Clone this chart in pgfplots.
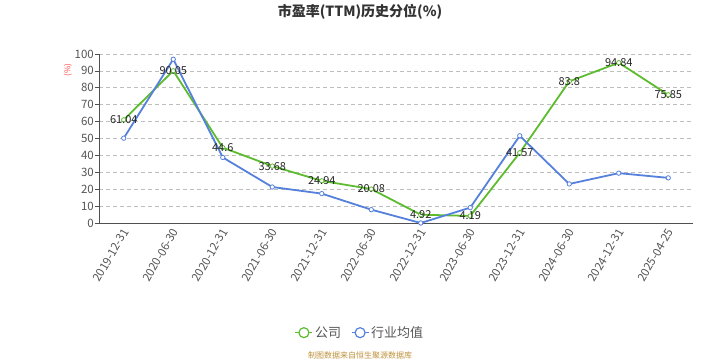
\documentclass[border=0pt]{standalone}
\usepackage{pgfplots}
\pgfplotsset{compat=1.18}
\usepackage{fontspec}
\setmainfont{Noto Sans CJK SC}
\definecolor{cgreen}{RGB}{93,187,46}
\definecolor{cblue}{RGB}{85,128,220}
\definecolor{axcol}{RGB}{80,80,80}
\definecolor{tickcol}{RGB}{85,85,85}
\definecolor{gridcol}{RGB}{190,190,190}
\definecolor{footcol}{RGB}{190,145,60}
\begin{document}
\begin{tikzpicture}[x=1bp,y=1bp]
\path[use as bounding box] (0,0) rectangle (720,360);
\begin{axis}[
  at={(99bp,137bp)}, anchor=origin,
  scale only axis, width=594bp, height=169bp,
  xmin=0, xmax=12, ymin=0, ymax=100,
  axis lines*=left,
  axis line style={axcol, line width=0.8pt},
  /pgf/number format/assume math mode=true,
  xtick={0.5,1.5,...,11.5},
  xticklabels={2019-12-31,2020-06-30,2020-12-31,2021-06-30,2021-12-31,2022-06-30,2022-12-31,2023-06-30,2023-12-31,2024-06-30,2024-12-31,2025-04-25},
  major x tick style={draw=none},
  extra x ticks={0,1,...,12},
  extra x tick labels={},
  extra x tick style={major tick length=5bp, tick style={axcol, line width=0.8pt}, tick align=outside},
  xticklabel style={rotate=60, anchor=east, font=\fontsize{11.5bp}{12bp}\selectfont, text=tickcol, inner sep=1bp, yshift=-3bp},
  ytick={0,10,...,100},
  yticklabel style={font=\fontsize{11.5bp}{12bp}\selectfont, text=tickcol, inner sep=1bp},
  ymajorgrids,
  grid style={gridcol, dashed, line width=0.8pt, dash pattern=on 4bp off 3bp},
  tick align=outside,
  major tick length=4bp,
  y tick style={axcol, line width=0.8pt},
  clip=false,
  legend style={at={(0.4394,-0.649)}, anchor=center, draw=none, fill=none,
     legend columns=2, font=\fontsize{13bp}{14bp}\selectfont, text=tickcol,
     /tikz/every even column/.append style={column sep=8bp}},
  legend cell align=left,
  legend image code/.code={\draw[line width=1.2pt] (0bp,0bp)--(17bp,0bp); \draw[line width=1.2pt, fill=white] (8.5bp,0bp) circle (5bp);},
]
\addplot[cgreen, line width=1.8pt, mark=*, mark size=2.2bp, mark options={fill=white, line width=0.8pt}] coordinates {
(0.5,61.04) (1.5,90.05) (2.5,44.6) (3.5,33.68) (4.5,24.94) (5.5,20.08) (6.5,4.92) (7.5,4.19) (8.5,41.57) (9.5,83.8) (10.5,94.84) (11.5,75.85)};
\addlegendentry{公司}
\addplot[cblue, line width=1.8pt, mark=*, mark size=2.2bp, mark options={fill=white, line width=0.8pt}] coordinates {
(0.5,50.2) (1.5,96.9) (2.5,38.8) (3.5,21.3) (4.5,17.4) (5.5,7.9) (6.5,0) (7.5,9.1) (8.5,51.6) (9.5,23.1) (10.5,29.5) (11.5,26.7)};
\addlegendentry{行业均值}
\addplot[draw=none, mark=none, forget plot, nodes near coords, point meta=explicit symbolic,
  every node near coord/.style={anchor=center, font=\fontsize{11bp}{12bp}\selectfont, text=black!85, inner sep=0pt}] coordinates {
(0.5,61.04) [61.04] (1.5,90.05) [90.05] (2.5,44.6) [44.6] (3.5,33.68) [33.68] (4.5,24.94) [24.94] (5.5,20.08) [20.08] (6.5,4.92) [4.92] (7.5,4.19) [4.19] (8.5,41.57) [41.57] (9.5,83.8) [83.8] (10.5,94.84) [94.84] (11.5,75.85) [75.85]};
\end{axis}
\node[font=\fontsize{14bp}{15bp}\selectfont\bfseries, text=black!80] at (360,348) {市盈率(TTM)历史分位(\%)};
\node[rotate=90, font=\fontsize{8bp}{9bp}\selectfont, text=red!75] at (68,290) {(\%)};
\node[font=\fontsize{8bp}{9bp}\selectfont, text=footcol] at (360,5) {制图数据来自恒生聚源数据库};
\end{tikzpicture}
\end{document}
